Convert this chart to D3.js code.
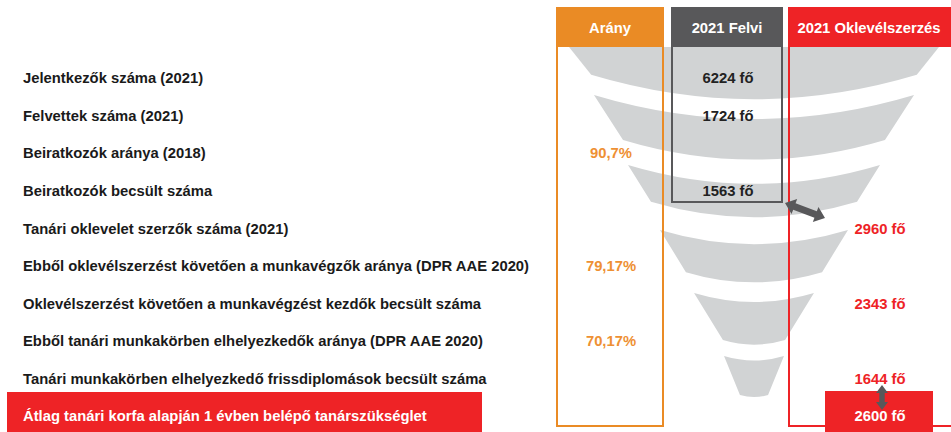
<!DOCTYPE html>
<html>
<head>
<meta charset="utf-8">
<script src="https://cdn.jsdelivr.net/npm/d3@7"></script>
<style>
  html, body { margin: 0; padding: 0; background: #fff; }
  svg { display: block; font-family: "Liberation Sans", Arial, sans-serif; font-weight: bold; }
</style>
</head>
<body>
<div id="chart"></div>
<script>
// ---- data ----
const rowLabels = [
  "Jelentkezők száma (2021)",
  "Felvettek száma (2021)",
  "Beiratkozók aránya (2018)",
  "Beiratkozók becsült száma",
  "Tanári oklevelet szerzők száma (2021)",
  "Ebből oklevélszerzést követően a munkavégzők aránya (DPR AAE 2020)",
  "Oklevélszerzést követően a munkavégzést kezdők becsült száma",
  "Ebből tanári munkakörben elhelyezkedők aránya (DPR AAE 2020)",
  "Tanári munkakörben elhelyezkedő frissdiplomások becsült száma",
  "Átlag tanári korfa alapján 1 évben belépő tanárszükséglet"
];
const columnTitles = ["Arány", "2021 Felvi", "2021 Oklevélszerzés"];

// which row each value belongs to
const ratioRows = [2, 5, 7];
const ratioValues = [90.7, 79.17, 70.17];
const felviRows = [0, 1, 3];
const felviValues = [6224, 1724, 1563];
const diplomaRows = [4, 6, 8, 9];
const diplomaValues = [2960, 2343, 1644, 2600];

// funnel slices: depth (0-100) from/to, relative width top/bottom
const sliceDepthTop = [0, 13.8, 33.9, 52.6, 70.7, 88.8];
const sliceDepthBottom = [8.0, 26.7, 44.5, 64.7, 84.2, 100];
const sliceWidthTop = [1, 0.865, 0.681, 0.508, 0.324, 0.162];
const sliceWidthBottom = [0.88, 0.708, 0.557, 0.368, 0.168, 0.076];

// ---- layout ----
const width = 951, height = 432;
const orange = "#EA8B25", orangeText = "#EE9033", grey = "#58585A", red = "#EE2326";
const funnelGrey = "#D1D3D4";
const fontSize = 14.8;

const svg = d3.select("#chart").append("svg")
  .attr("width", width)
  .attr("height", height);

const y = d3.scalePoint().domain(d3.range(rowLabels.length)).range([78, 416]);
const depth = d3.scaleLinear().domain([0, 100]).range([47, 395]);
const halfW = d3.scaleLinear().domain([0, 1]).range([0, 185]);
const cx = 754;
const sagFactor = 0.075;

const locale = d3.formatLocale({decimal: ",", thousands: " ", grouping: [3], currency: ["", " Ft"]});
const fmtPct = v => locale.format(".4~r")(v) + "%";
const fmtPeople = v => d3.format("d")(v) + " fő";

// columns (header boxes)
const cols = [
  {x0: 557, x1: 663, bottom: 426, color: orange},
  {x0: 672, x1: 782, bottom: 202, color: grey},
  {x0: 789, x1: 1000, bottom: 426, color: red}
];
const headTop = 8, headBottom = 47;

// funnel
const slices = sliceDepthTop.map((d, i) => ({
  t: depth(d), b: depth(sliceDepthBottom[i]),
  wt: halfW(sliceWidthTop[i]), wb: halfW(sliceWidthBottom[i]),
  flatTop: i === 0
}));

svg.append("g").selectAll("path")
  .data(slices)
  .join("path")
  .attr("fill", funnelGrey)
  .attr("d", s => {
    const sagT = s.flatTop ? 0 : 2 * s.wt * sagFactor;
    const sagB = 2 * s.wb * sagFactor;
    const p = d3.path();
    p.moveTo(cx - s.wt, s.t);
    p.quadraticCurveTo(cx, s.t + 2 * sagT, cx + s.wt, s.t);
    p.lineTo(cx + s.wb, s.b);
    p.quadraticCurveTo(cx, s.b + 2 * sagB, cx - s.wb, s.b);
    p.closePath();
    return p.toString();
  });

// column outlines
svg.append("g").selectAll("rect")
  .data(cols)
  .join("rect")
  .attr("x", d => d.x0)
  .attr("y", headTop)
  .attr("width", d => d.x1 - d.x0)
  .attr("height", d => d.bottom - headTop)
  .attr("fill", "none")
  .attr("stroke", d => d.color)
  .attr("stroke-width", 2);

// header boxes
const heads = svg.append("g").selectAll("g")
  .data(cols)
  .join("g");
heads.append("rect")
  .attr("x", d => d.x0 - 1)
  .attr("y", headTop - 1)
  .attr("width", d => d.x1 - d.x0 + 2)
  .attr("height", headBottom - headTop + 1)
  .attr("fill", d => d.color);
heads.append("text")
  .attr("x", (d, i) => i === 2 ? 869 : (d.x0 + d.x1) / 2)
  .attr("y", (headTop + headBottom) / 2)
  .attr("dy", "0.36em")
  .attr("text-anchor", "middle")
  .attr("fill", "#fff")
  .attr("font-size", fontSize)
  .text((d, i) => columnTitles[i]);

// highlight bar for the last row
const last = rowLabels.length - 1;
svg.append("rect")
  .attr("x", 7).attr("y", y(last) - 24)
  .attr("width", 475).attr("height", 50)
  .attr("fill", red);
svg.append("rect")
  .attr("x", 825).attr("y", y(last) - 25)
  .attr("width", 108).attr("height", 50)
  .attr("fill", red);

// row labels
svg.append("g").selectAll("text")
  .data(rowLabels)
  .join("text")
  .attr("x", 23)
  .attr("y", (d, i) => y(i))
  .attr("dy", "0.36em")
  .attr("font-size", fontSize)
  .attr("fill", (d, i) => i === last ? "#fff" : "#1a1a1a")
  .text(d => d);

// value columns
function valueColumn(rows, values, x, color, fmt) {
  svg.append("g").selectAll("text")
    .data(values)
    .join("text")
    .attr("x", x)
    .attr("y", (d, i) => y(rows[i]))
    .attr("dy", "0.36em")
    .attr("text-anchor", "middle")
    .attr("font-size", fontSize)
    .attr("fill", (d, i) => typeof color === "function" ? color(rows[i]) : color)
    .text(fmt);
}
valueColumn(ratioRows, ratioValues, 611, orangeText, fmtPct);
valueColumn(felviRows, felviValues, 728, "#222", fmtPeople);
valueColumn(diplomaRows, diplomaValues, 880, r => r === last ? "#fff" : red, fmtPeople);

// double headed arrows
function doubleArrow(p1, p2, shaft, head, headLen) {
  const dx = p2[0] - p1[0], dy = p2[1] - p1[1];
  const len = Math.hypot(dx, dy);
  const u = [dx / len, dy / len], n = [-u[1], u[0]];
  const at = (p, a, b) => [p[0] + u[0] * a + n[0] * b, p[1] + u[1] * a + n[1] * b];
  const pts = [
    p1, at(p1, headLen, head), at(p1, headLen, shaft),
    at(p2, -headLen, shaft), at(p2, -headLen, head), p2,
    at(p2, -headLen, -head), at(p2, -headLen, -shaft),
    at(p1, headLen, -shaft), at(p1, headLen, -head)
  ];
  svg.append("path")
    .attr("d", d3.line()(pts) + "Z")
    .attr("fill", grey);
}
doubleArrow([785, 203], [825, 218], 3.4, 8, 10);
doubleArrow([882, 385], [882, 410], 2.7, 6, 8);
</script>
</body>
</html>
